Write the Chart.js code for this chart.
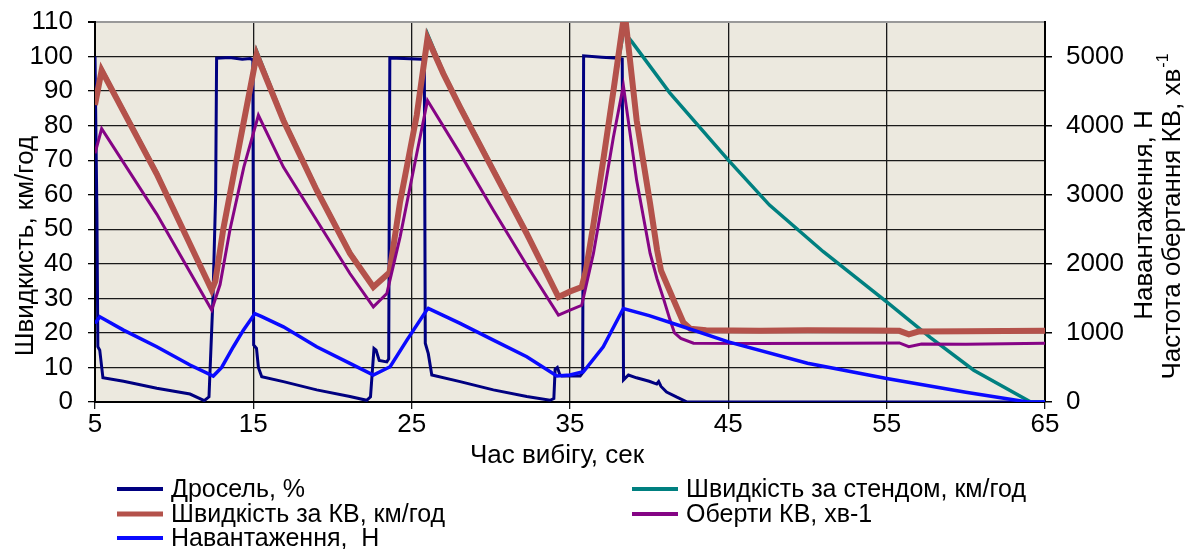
<!DOCTYPE html>
<html>
<head>
<meta charset="utf-8">
<script src="https://cdn.jsdelivr.net/npm/chart.js"></script>
<style>html,body{margin:0;padding:0;background:#fff}</style>
</head>
<body>
<canvas id="chart" width="1185" height="549"></canvas>
<script>
// time axis, sec
var xTicks = [5, 15, 25, 35, 45, 55, 65];
var leftTicksMax = 110;
var rightTicks = [0, 1000, 2000, 3000, 4000, 5000];
var rightTicksMax = 5500;

// Дросель, %
var throttleT = [5, 5.12, 5.18, 5.3, 5.5, 6.8, 8.9, 11.0, 11.9, 12.2, 12.45, 12.62, 12.68, 13.5, 14.3, 14.8, 14.97, 15.02, 15.2, 15.32, 15.53, 16.9, 19.0, 21.1, 22.16, 22.4, 22.62, 22.75, 22.95, 23.43, 23.55, 23.62, 24.5, 25.64, 25.8, 25.86, 26.05, 26.27, 28.06, 30.16, 32.27, 33.74, 33.98, 34.06, 34.2, 34.35, 34.48, 35.64, 35.8, 35.86, 37.0, 38.1, 38.3, 38.38, 38.69, 39.2, 40.0, 40.48, 40.6, 40.75, 41.1, 41.75, 42.4, 65];
var throttleV = [100, 55, 16, 15, 7, 6, 4, 2.3, 0.4, 1.5, 30, 60, 99.5, 99.7, 99.2, 99.4, 99, 16.5, 15.5, 10, 7.3, 5.9, 3.5, 1.6, 0.5, 1.5, 15.5, 15, 12, 11.6, 12.5, 99.6, 99.4, 99.2, 98.5, 17, 14, 7.8, 5.9, 3.5, 1.6, 0.5, 1, 9.5, 10, 8, 7.5, 7.5, 8.5, 100.2, 99.8, 99.5, 99.3, 6.4, 7.8, 7, 6, 5.2, 5.9, 4.5, 2.9, 1.4, 0, 0];

// Швидкість за стендом, км/год
var standT = [5, 5.42, 8.9, 12.37, 12.6, 13.1, 14.16, 15.21, 16.9, 19.0, 21.1, 22.58, 23.6, 24.27, 25.32, 26.0, 27.0, 28.06, 30.16, 32.27, 34.27, 35.0, 35.74, 36.0, 36.5, 37.1, 37.74, 38.4, 38.6, 38.9, 41.3, 45, 47.6, 51, 55, 57.75, 60.5, 64.1, 65];
var standV = [86, 96.5, 66.5, 32.4, 35, 50, 75.5, 101.5, 82, 61.8, 43.5, 33.3, 37.5, 58, 83, 106.5, 95.5, 85.8, 67.5, 49.2, 30.4, 32, 33.3, 38, 52, 70, 90, 108, 106, 104.3, 89.5, 70, 57, 43.5, 29, 18.7, 9.2, 0, 0];

// Швидкість за КВ, км/год
var crankT = [5, 5.42, 8.9, 12.37, 12.6, 13.1, 14.16, 15.21, 16.9, 19.0, 21.1, 22.58, 23.6, 24.27, 25.32, 26.0, 27.0, 28.06, 30.16, 32.27, 34.27, 35.0, 35.74, 36.0, 36.5, 37.1, 37.74, 38.45, 39.21, 40.06, 40.5, 40.75, 41.5, 42.16, 42.6, 43.6, 47, 50, 54, 55.8, 56.4, 57.0, 60, 65];
var crankV = [86, 96, 66, 32.4, 35, 50, 75.5, 100.5, 81.5, 61.3, 43, 33.3, 37.5, 58, 83, 105.3, 95, 85.3, 67, 48.7, 30.4, 32, 33.3, 38, 52, 70, 90, 113, 81.5, 57.4, 44, 38, 30, 23, 21.2, 20.8, 20.6, 20.8, 20.7, 20.6, 19.6, 20.4, 20.5, 20.6];

// Оберти КВ, хв-1
var rpmT = [5, 5.42, 8.9, 12.37, 12.9, 13.53, 14.4, 15.32, 16.9, 19.0, 21.1, 22.58, 23.43, 24.27, 25.32, 26.0, 28.06, 30.16, 32.27, 34.27, 35.0, 35.74, 36.48, 37.1, 37.74, 38.37, 39.21, 40.06, 40.5, 40.9, 41.3, 41.6, 42.0, 42.8, 47, 52, 55.8, 56.4, 57.2, 60, 65];
var rpmV = [3600, 3955, 2720, 1330, 1700, 2500, 3400, 4150, 3400, 2630, 1860, 1377, 1570, 2390, 3594, 4364, 3595, 2775, 1980, 1257, 1330, 1400, 2150, 2966, 3833, 4580, 3208, 2150, 1780, 1500, 1200, 1000, 920, 850, 845, 850, 855, 800, 840, 835, 850];

// Навантаження, Н
var loadT = [5, 5.3, 6.8, 8.9, 11.0, 12.47, 13.0, 13.74, 14.37, 15.1, 15.5, 16.9, 19.0, 21.1, 22.58, 23.64, 24.7, 25.95, 26.05, 28.06, 30.16, 32.27, 34.17, 35.0, 35.85, 37.1, 38.37, 40, 42, 45, 50, 55, 60, 63.9, 65];
var loadV = [1137, 1233, 1040, 800, 535, 376, 500, 800, 1040, 1280, 1240, 1088, 800, 559, 390, 510, 896, 1330, 1354, 1137, 896, 655, 376, 390, 438, 800, 1354, 1250, 1100, 870, 560, 340, 140, 0, 0];

function pts(t, v) {
  return t.map(function (x, i) { return {x: x, y: v[i]}; });
}

var FONT = '"Liberation Sans", Arial, sans-serif';

// vertical axes: no extra room above/below the plot for half tick labels
function noVPad(s) { s.paddingTop = 0; s.paddingBottom = 0; }

var decor = {
  id: 'decor',
  beforeDraw: function (chart) {
    var a = chart.chartArea, ctx = chart.ctx;
    ctx.save();
    ctx.fillStyle = '#ECE9DF';
    ctx.fillRect(a.left, a.top, a.right - a.left, a.bottom - a.top);
    ctx.restore();
  },
  afterDraw: function (chart) {
    var ctx = chart.ctx;
    ctx.save();
    ctx.fillStyle = '#000';
    ctx.font = '26px ' + FONT;
    ctx.textBaseline = 'middle';
    ctx.textAlign = 'center';
    // x title
    ctx.fillText('Час вибігу, сек', 557, 456);
    // left title
    ctx.save();
    ctx.translate(26, 246);
    ctx.rotate(-Math.PI / 2);
    ctx.fillText('Швидкисть, км/год', 0, 0);
    ctx.restore();
    // right titles
    ctx.save();
    ctx.translate(1145, 215);
    ctx.rotate(-Math.PI / 2);
    ctx.fillText('Навантаження, Н', 0, 0);
    ctx.restore();
    ctx.save();
    ctx.translate(1173, 217);
    ctx.rotate(-Math.PI / 2);
    var main = 'Частота обертання КВ, хв';
    var wMain = ctx.measureText(main).width;
    ctx.font = '16px ' + FONT;
    var wSup = ctx.measureText('-1').width;
    var x0 = -(wMain + wSup) / 2;
    ctx.textAlign = 'left';
    ctx.fillText('-1', x0 + wMain + 1, -9);
    ctx.font = '26px ' + FONT;
    ctx.fillText(main, x0, 0);
    ctx.restore();

    // legend, two columns
    var cols = [117, 632], rows = [489, 514, 538];
    ctx.font = '25px ' + FONT;
    ctx.textAlign = 'left';
    chart.data.datasets.forEach(function (ds, i) {
      var cx = cols[i % 2], cy = rows[Math.floor(i / 2)];
      ctx.strokeStyle = ds.borderColor;
      ctx.lineWidth = ds.legendWidth;
      ctx.beginPath();
      ctx.moveTo(cx, cy);
      ctx.lineTo(cx + 46, cy);
      ctx.stroke();
      ctx.fillStyle = '#000';
      ctx.fillText(ds.label, cx + 54, cy + 1);
    });
    ctx.restore();
  }
};

new Chart(document.getElementById('chart'), {
  type: 'line',
  data: {
    datasets: [
      {label: 'Дросель, %', data: pts(throttleT, throttleV), borderColor: '#000080', borderWidth: 3, legendWidth: 4, yAxisID: 'y', order: 5},
      {label: 'Швидкість за стендом, км/год', data: pts(standT, standV), borderColor: '#008080', borderWidth: 3.5, legendWidth: 4, yAxisID: 'y', order: 4},
      {label: 'Швидкість за КВ, км/год', data: pts(crankT, crankV), borderColor: '#B4524B', borderWidth: 6, legendWidth: 5, yAxisID: 'y', order: 3},
      {label: 'Оберти КВ, хв-1', data: pts(rpmT, rpmV), borderColor: '#850485', borderWidth: 3, legendWidth: 4, yAxisID: 'y1', order: 2},
      {label: 'Навантаження,  Н', data: pts(loadT, loadV), borderColor: '#0A0AFF', borderWidth: 3.5, legendWidth: 4, yAxisID: 'y1', order: 1}
    ]
  },
  options: {
    responsive: false,
    animation: false,
    events: [],
    elements: {point: {radius: 0}, line: {tension: 0}},
    layout: {padding: {top: 22, left: 0, right: 0, bottom: 0}},
    plugins: {legend: {display: false}, tooltip: {enabled: false}},
    scales: {
      x: {
        type: 'linear', min: xTicks[0], max: xTicks[xTicks.length - 1],
        afterBuildTicks: function (s) { s.ticks = xTicks.map(function (v) { return {value: v}; }); },
        ticks: {autoSkip: false, color: '#000', font: {family: FONT, size: 26}, padding: 0, maxRotation: 0},
        grid: {color: '#1a1a1a', lineWidth: 1.3, tickLength: 7},
        border: {color: '#000', width: 2},
        afterFit: function (s) { s.height = 147; }
      },
      y: {
        position: 'left', min: 0, max: leftTicksMax,
        ticks: {stepSize: 10, autoSkip: false, color: '#000', font: {family: FONT, size: 26}, padding: 15},
        grid: {
          color: function (c) { return c.tick && c.tick.value === leftTicksMax ? '#999' : '#1a1a1a'; },
          lineWidth: function (c) { return c.tick && c.tick.value === leftTicksMax ? 2 : 1.3; },
          tickColor: '#000', tickLength: 7
        },
        border: {color: '#000', width: 2},
        afterFit: function (s) { s.width = 95; noVPad(s); }
      },
      y1: {
        position: 'right', min: 0, max: rightTicksMax,
        afterBuildTicks: function (s) { s.ticks = rightTicks.map(function (v) { return {value: v}; }); },
        ticks: {autoSkip: false, color: '#000', font: {family: FONT, size: 26}, padding: 14,
          callback: function (v) { return String(v); }},
        grid: {drawOnChartArea: false, color: '#000', lineWidth: 1.5, tickLength: 7},
        border: {color: '#000', width: 2},
        afterFit: function (s) { s.width = 140; noVPad(s); }
      }
    }
  },
  plugins: [decor]
});
</script>
</body>
</html>
